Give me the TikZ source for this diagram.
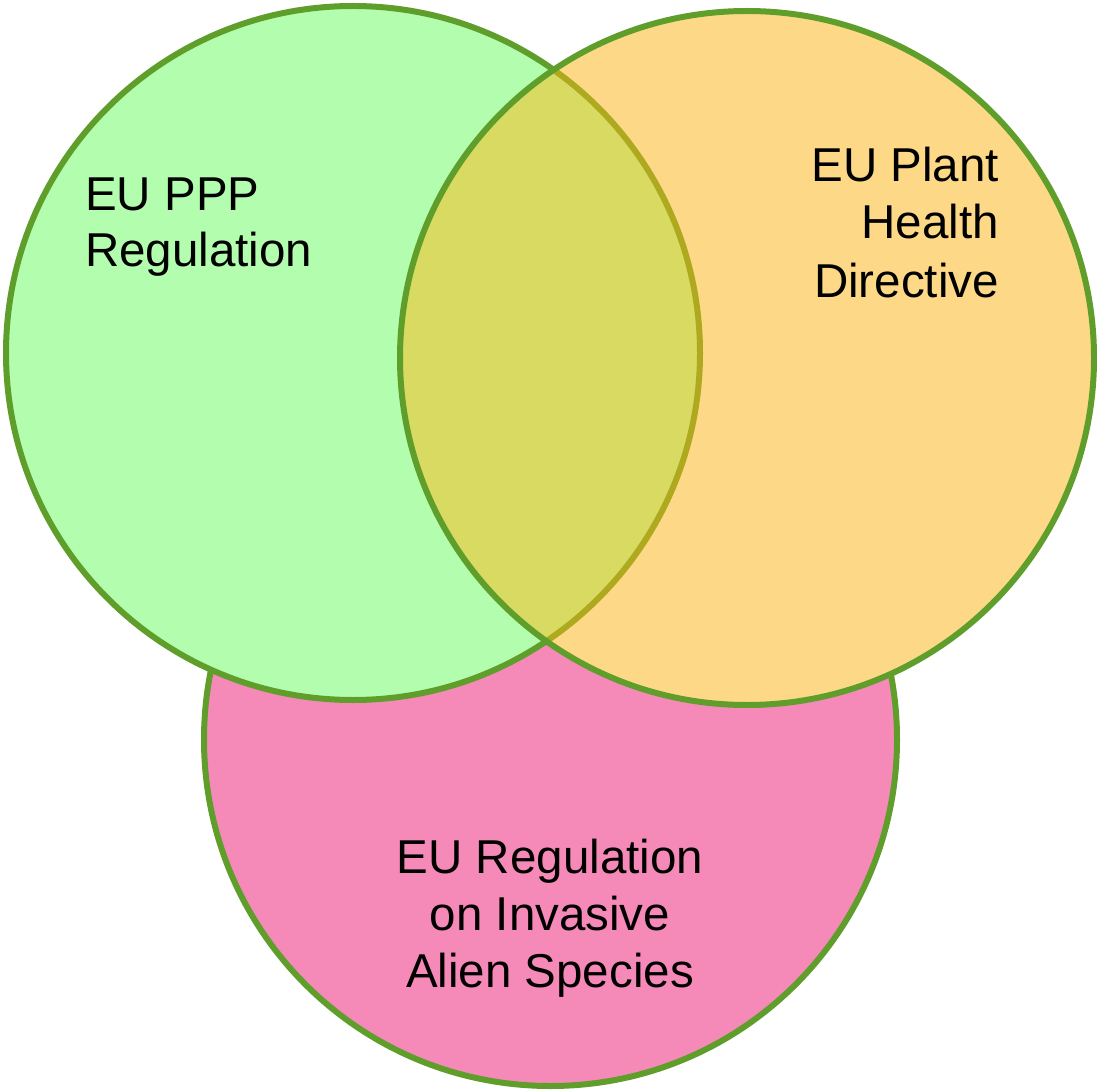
\documentclass[tikz,border=0pt]{standalone}
\usepackage{fontspec}
\setmainfont{Liberation Sans}
\definecolor{pinkfill}{HTML}{F58AB9}
\definecolor{greenfill}{HTML}{B3FEAE}
\definecolor{orangefill}{HTML}{FDD987}
\definecolor{lensfill}{HTML}{D8DA62}
\definecolor{rimgreen}{HTML}{5F9E2B}
\definecolor{rimolive}{HTML}{AEA91E}
\begin{document}
\begin{tikzpicture}[x=1pt,y=-1pt,
  rim/.style={draw=rimgreen,line width=6pt},
  lbl/.style={inner sep=0pt,font=\fontsize{47.5}{57}\selectfont}]
\useasboundingbox (0,0) rectangle (1097,1091);
\coordinate (cppp) at (353,353);
\coordinate (cph) at (747,358);
\coordinate (cias) at (550.5,739.5);
% pink circle (behind)
\draw[rim,fill=pinkfill] (cias) circle[radius=346.5pt];
% green circle
\draw[rim,fill=greenfill] (cppp) circle[radius=347pt];
% orange circle fill
\fill[orangefill] (cph) circle[radius=347pt];
% lens
\begin{scope}
  \clip (cph) circle[radius=347pt];
  \fill[lensfill] (cppp) circle[radius=347pt];
  \draw[draw=rimolive,line width=6pt] (cppp) circle[radius=347pt];
\end{scope}
% orange rim
\draw[rim] (cph) circle[radius=347pt];
% labels
\node[lbl,anchor=base west] (t1a) at (85,211) {EU PPP};
\node[lbl,anchor=base west] (t1b) at (85,267) {Regulation};
\node[lbl,anchor=base east] (t2a) at (999,182) {EU Plant};
\node[lbl,anchor=base east] (t2b) at (999,239) {Health};
\node[lbl,anchor=base east] (t2c) at (999,297) {Directive};
\node[lbl,anchor=base] (t3a) at (550,873) {EU Regulation};
\node[lbl,anchor=base] (t3b) at (550,930) {on Invasive};
\node[lbl,anchor=base] (t3c) at (550,987) {Alien Species};
\end{tikzpicture}
\end{document}
